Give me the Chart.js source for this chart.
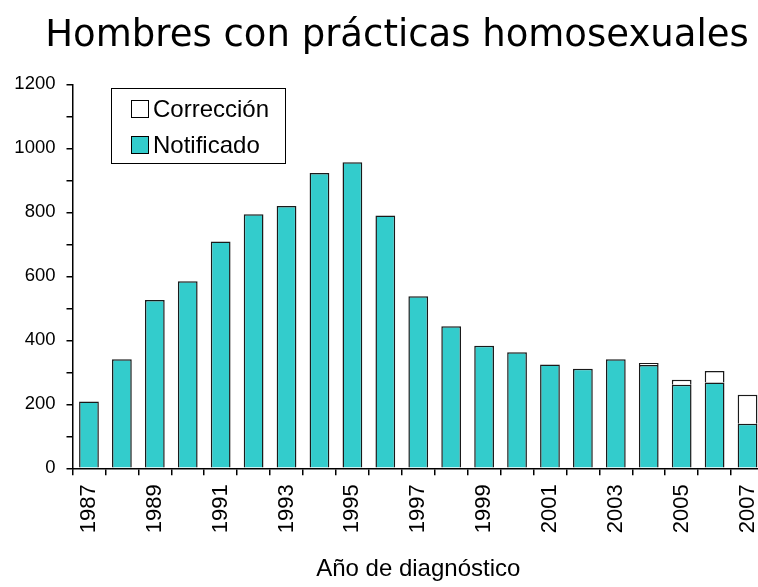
<!doctype html>
<html lang="es">
  <head>
    <meta charset="utf-8">
    <title>Hombres con prácticas homosexuales</title>
    <script src="https://cdn.jsdelivr.net/npm/chart.js"></script>
    <style>
      html, body { margin: 0; padding: 0; overflow: hidden; background: #fff; }
      #clip { width: 758px; height: 587px; overflow: hidden; }
      #box { width: 794px; height: 587px; }
    </style>
  </head>
  <body>
    <div id="clip">
      <div id="box">
        <canvas id="myChart"></canvas>
      </div>
    </div>

    <script>
        const years = ['1987', '1988', '1989', '1990', '1991', '1992', '1993', '1994', '1995', '1996', '1997',
                       '1998', '1999', '2000', '2001', '2002', '2003', '2004', '2005', '2006', '2007'];
        const notificado = [209, 341, 526, 585, 709, 794, 820, 923, 957, 790, 538,
                            444, 383, 363, 324, 311, 341, 323, 261, 268, 139];
        const correccion = [0, 0, 0, 0, 0, 0, 0, 0, 0, 0, 0,
                            0, 0, 0, 0, 0, 0, 6, 16, 36, 91];
        const yTicks = [0, 200, 400, 600, 800, 1000, 1200];

        const textFont = "'Liberation Sans', Arial, sans-serif";

        // legend drawn inside the plot, framed, like the original
        const boxLegend = {
            id: 'boxLegend',
            afterDatasetsDraw(chart) {
                const ctx = chart.ctx;
                const items = chart.data.datasets.slice().reverse();
                ctx.save();
                ctx.fillStyle = '#fff';
                ctx.fillRect(111, 88, 174, 75);
                ctx.lineWidth = 1;
                ctx.strokeStyle = '#000';
                ctx.strokeRect(111.5, 88.5, 174, 75);
                ctx.font = '24px ' + textFont;
                ctx.textBaseline = 'middle';
                items.forEach((ds, i) => {
                    const y = 100 + i * 36;
                    ctx.fillStyle = ds.backgroundColor;
                    ctx.fillRect(131, y, 18, 18);
                    ctx.strokeStyle = '#000';
                    ctx.strokeRect(131.5, y + 0.5, 17, 17);
                    ctx.fillStyle = '#000';
                    ctx.fillText(ds.label, 153, y + 10);
                });
                ctx.restore();
            }
        };

        // the y labels sit left of the padded area; widen the scale's label clip
        const yLabelRoom = {
            id: 'yLabelRoom',
            afterLayout(chart) {
                chart.scales.y.left = 0;
            }
        };

        const data = {
            labels: years,
            datasets: [
                {
                    label: 'Notificado',
                    data: notificado,
                    backgroundColor: '#33CCCC',
                    borderColor: '#1a1a1a',
                    borderWidth: 1.5
                },
                {
                    label: 'Corrección',
                    data: correccion,
                    backgroundColor: '#ffffff',
                    borderColor: '#1a1a1a',
                    borderWidth: 1.5
                }
            ]
        };

        const config = {
            type: 'bar',
            data,
            options: {
                responsive: true,
                maintainAspectRatio: false,
                animation: false,
                layout: { padding: { left: 30, right: 30, top: 0, bottom: 0 } },
                datasets: {
                    bar: { categoryPercentage: 1, barPercentage: 0.6 }
                },
                plugins: {
                    legend: { display: false },
                    tooltip: { enabled: false },
                    title: {
                        display: true,
                        text: 'Hombres con prácticas homosexuales',
                        color: '#000',
                        font: { family: "'DejaVu Sans', sans-serif", size: 37, weight: 'normal', lineHeight: 1.2 },
                        padding: { top: 14, bottom: 26 }
                    }
                },
                scales: {
                    x: {
                        stacked: true,
                        grid: { drawOnChartArea: false, drawTicks: true, tickLength: 7, tickColor: '#000', offset: true, lineWidth: 1.5 },
                        border: { color: '#000', width: 1.5 },
                        ticks: {
                            autoSkip: false,
                            maxRotation: 90,
                            minRotation: 90,
                            padding: 9,
                            color: '#000',
                            font: { family: textFont, size: 22 },
                            callback: (v, i) => (i % 2 === 0 ? years[i] : '')
                        },
                        title: {
                            display: true,
                            text: 'Año de diagnóstico',
                            color: '#000',
                            font: { family: textFont, size: 24, lineHeight: 1.2 },
                            padding: { top: 13, bottom: 3 }
                        }
                    },
                    y: {
                        stacked: true,
                        min: 0,
                        max: 1200,
                        afterFit: (scale) => { scale.width = 42.5; },
                        grid: { drawOnChartArea: false, drawTicks: true, tickLength: 6, tickColor: '#000', lineWidth: 1.5 },
                        border: { color: '#000', width: 1.5 },
                        ticks: {
                            stepSize: 100,
                            padding: 11,
                            color: '#000',
                            font: { family: textFont, size: 18.5 },
                            callback: (v) => (yTicks.includes(v) ? v : '')
                        }
                    }
                }
            },
            plugins: [boxLegend, yLabelRoom]
        };

        const myChart = new Chart(document.getElementById('myChart'), config);
    </script>
  </body>
</html>
